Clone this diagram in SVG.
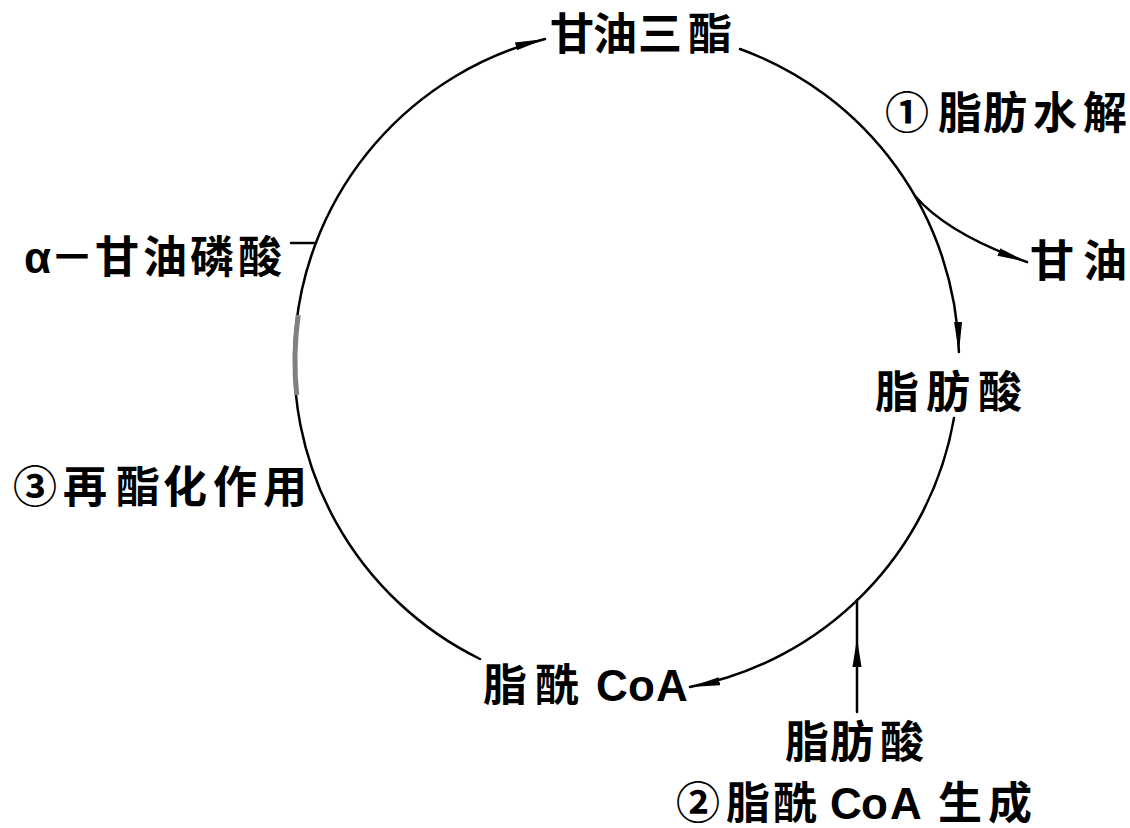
<svg xmlns="http://www.w3.org/2000/svg" width="1130" height="828" viewBox="0 0 1130 828">
<style>
  .lbl { font-family: "Liberation Sans", "Noto Sans CJK SC", sans-serif; font-size: 44px; font-weight: 700; fill: #000; }
  .ln { fill: none; stroke: #000; stroke-width: 2.5; stroke-linecap: round; }
</style>
<defs>
  <marker id="arr" markerUnits="userSpaceOnUse" markerWidth="32" markerHeight="12" refX="30" refY="6" orient="auto">
    <path d="M0,2 L30,6 L0,10 Z" fill="#000"/>
  </marker>
</defs>
<rect width="1130" height="828" fill="#fff"/>
<g id="connectors">
  <path class="ln" d="M740,49 A332,332 0 0,1 958.9,352" marker-end="url(#arr)"/>
  <path class="ln" d="M954,418 A332,332 0 0,1 690,687" marker-end="url(#arr)"/>
  <path class="ln" d="M480,659 A332,332 0 0,1 545,39" marker-end="url(#arr)"/>
  <path d="M296.7,395 A332,332 0 0,1 298.2,315" fill="none" stroke="#808080" stroke-width="5"/>
  <path class="ln" d="M915,196 Q948,234 1027,262" marker-end="url(#arr)"/>
  <path class="ln" d="M857,712 L857,600"/>
  <polygon points="857,638 861.5,667 852.5,667" fill="#000"/>
  <path class="ln" d="M291,243 L316,243"/>
</g>
<g id="node-tg"><text class="lbl" x="550 593 638 688" y="50">甘油三酯</text></g>
<g id="label-1"><text class="lbl" x="885 938 983 1033 1083" y="129">①脂肪水解</text></g>
<g id="node-glycerol"><text class="lbl" x="1030 1083" y="277">甘油</text></g>
<g id="node-fa-right"><text class="lbl" x="875 926 978" y="408">脂肪酸</text></g>
<g id="node-acylcoa"><text class="lbl" x="483 535 585 596 628 656" y="701">脂酰 CoA</text></g>
<g id="node-fa-bottom"><text class="lbl" x="785 830 880" y="758">脂肪酸</text></g>
<g id="label-2"><text class="lbl" x="676 726 773 815 830 861 890 920 938 988" y="819">②脂酰 CoA 生成</text></g>
<g id="label-3"><text class="lbl" x="13 63 116 163 213 263" y="503">③再酯化作用</text></g>
<g id="node-g3p"><text class="lbl" x="24 50 95 143 190 238" y="273">α－甘油磷酸</text></g>
</svg>
